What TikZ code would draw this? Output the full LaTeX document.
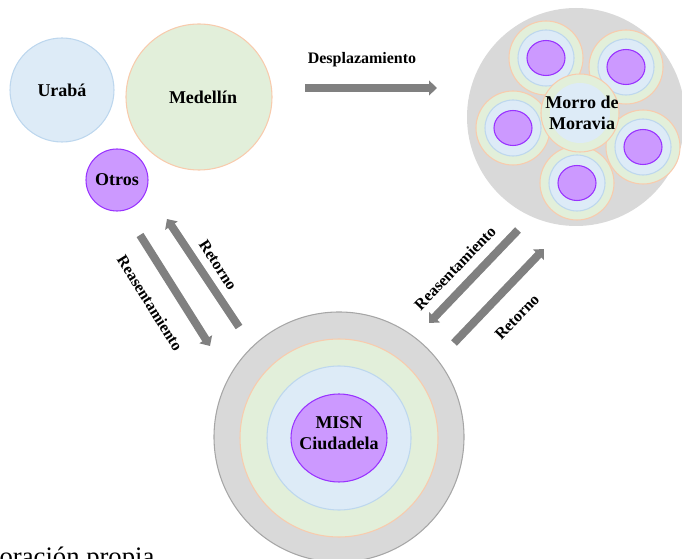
\documentclass[tikz,border=0pt]{standalone}
\usepackage{fontspec}
\setmainfont{Liberation Serif}
\usetikzlibrary{arrows.meta,shapes.geometric}

\definecolor{ringgray}{HTML}{D9D9D9}
\definecolor{ringgrayline}{HTML}{A6A6A6}
\definecolor{greenfill}{HTML}{E2EFDA}
\definecolor{orangeline}{HTML}{F8CBAD}
\definecolor{bluefill}{HTML}{DDEBF7}
\definecolor{blueline}{HTML}{BDD7EE}
\definecolor{purplefill}{HTML}{CC99FF}
\definecolor{purpleline}{HTML}{9933FF}
\definecolor{arrowgray}{HTML}{808080}

\begin{document}
\begin{tikzpicture}[x=0.75pt,y=-0.75pt,
  placetext/.style={font=\bfseries\fontsize{13.5}{16}\selectfont, align=center, text=black},
  flowlabel/.style={font=\bfseries\fontsize{12}{14}\selectfont, text=black},
  zone/.style={circle, inner sep=0pt},
  grayzone/.style={zone, fill=ringgray},
  greenzone/.style={zone, fill=greenfill, draw=orangeline, line width=0.8pt},
  bluezone/.style={zone, fill=bluefill, draw=blueline, line width=0.8pt},
  purplezone/.style={ellipse, inner sep=0pt, fill=purplefill, draw=purpleline, line width=0.8pt},
  flow/.style={draw=arrowgray, line width=6pt, -{Triangle[length=6pt,width=11pt]}},
]
\clip (0,0) rectangle (682,559);

% origin regions
\node[bluezone, minimum size=78pt] (uraba) at (62,90) {};
\node[placetext] at (uraba.center) {Urabá};
\node[greenzone, minimum size=109.5pt] (medellin) at (199,97) {};
\node[placetext] at (203,97) {Medellín};
\node[purplezone, minimum width=46.5pt, minimum height=46.5pt] (otros) at (117,180) {};
\node[placetext] at (otros.center) {Otros};

% Morro de Moravia with its surrounding settlements
\node[grayzone, minimum size=163.5pt] (morro) at (576,117) {};
\foreach \n/\cx/\cy in {a/546/58, b/626/67, c/513/128, d/643/147, e/577/183} {
  \node[greenzone, minimum size=55.5pt] (sat\n) at (\cx,\cy) {};
  \node[bluezone, minimum size=42pt] (satin\n) at (\cx,\cy) {};
  \node[purplezone, minimum width=28.5pt, minimum height=26.25pt] (satcore\n) at (\cx,\cy) {};
}
\node[greenzone, minimum size=58.5pt] (morrocore) at (580,113) {};
\node[bluezone, draw=none, minimum size=45pt] (morroinner) at (580,113) {};
\node[placetext] at (582,113) {Morro de\\Moravia};

% MISN Ciudadela rings
\node[grayzone, draw=ringgrayline, line width=0.8pt, minimum size=187.5pt] (misn) at (339,437) {};
\node[greenzone, minimum size=148.5pt] (misngreen) at (339,438) {};
\node[bluezone, minimum size=108pt] (misnblue) at (339,438) {};
\node[purplezone, minimum width=72pt, minimum height=66pt] (misncore) at (339,438) {};
\node[placetext] at (339,433) {MISN\\Ciudadela};

% flows between places
\coordinate (despA) at (305,88);
\coordinate (despB) at (437,88);
\draw[flow] (despA) -- (despB);
\node[flowlabel] at (362,60) {Desplazamiento};

\coordinate (lreaA) at (140,235);
\coordinate (lreaB) at (210,346);
\draw[flow] (lreaA) -- (lreaB);
\node[flowlabel, rotate=-58] at (150,303) {Reasentamiento};

\coordinate (lretA) at (239,327);
\coordinate (lretB) at (167,219);
\draw[flow] (lretA) -- (lretB);
\node[flowlabel, rotate=-57] at (218,265) {Retorno};

\coordinate (rreaA) at (518,230);
\coordinate (rreaB) at (429,323);
\draw[flow] (rreaA) -- (rreaB);
\node[flowlabel, rotate=46] at (455,268) {Reasentamiento};

\coordinate (rretA) at (454,343);
\coordinate (rretB) at (544,249);
\draw[flow] (rretA) -- (rretB);
\node[flowlabel, rotate=46] at (517,317) {Retorno};

% source note
\node[anchor=base west, inner sep=0pt, font=\fontsize{20}{24}\selectfont] (fuente) at (-49.5,565) {Elaboración propia};
\end{tikzpicture}
\end{document}
